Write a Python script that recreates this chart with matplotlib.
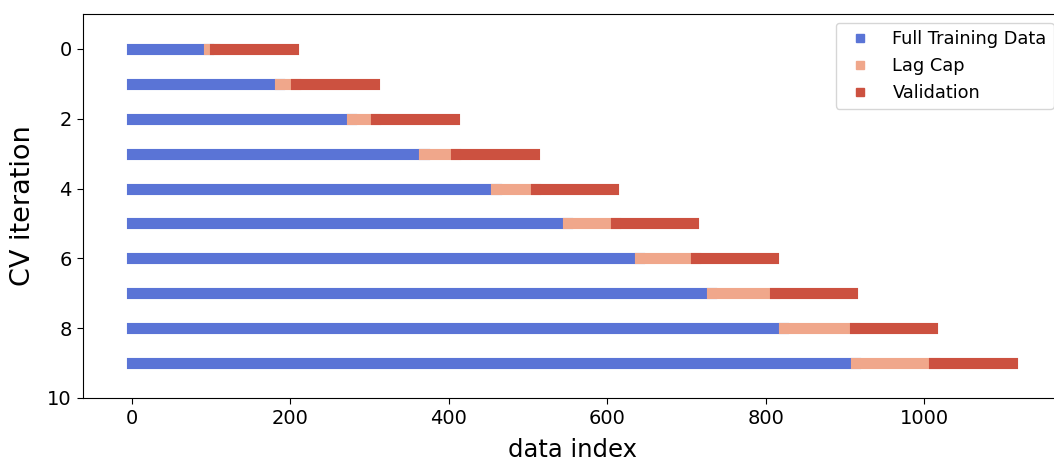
import matplotlib

matplotlib.use("Agg")

import matplotlib.pyplot as plt
from matplotlib.lines import Line2D

# CV splits: training [0, train_end), lag gap [train_end, gap_end), validation [gap_end, val_end)
iterations = [0, 1, 2, 3, 4, 5, 6, 7, 8, 9]
train_end = [97, 187, 278, 369, 460, 550, 641, 732, 823, 914]
gap_end = [105, 207, 308, 409, 510, 611, 712, 812, 913, 1013]
val_end = [204, 306, 407, 508, 608, 709, 810, 910, 1011, 1112]

labels = ["Full Training Data", "Lag Cap", "Validation"]
COLORS = ["#5a74d6", "#f0a78b", "#cc5140"]

fig = plt.figure(figsize=(10.54, 4.61), dpi=100)
ax = fig.add_axes([0.0787, 0.1367, 0.9295, 0.833])

starts = [[0] * len(iterations), train_end, gap_end]
ends = [[t - 1 for t in train_end], [g - 1 for g in gap_end], [v - 1 for v in val_end]]
for lo, hi, color in zip(starts, ends, COLORS):
    ax.hlines(iterations, lo, hi, colors=color, lw=8, capstyle="projecting")

ax.set_xlim(-62, 1175)
ax.set_ylim(10, -1)
ax.set_yticks([0, 2, 4, 6, 8, 10])
ax.set_xticks([0, 200, 400, 600, 800, 1000])
ax.tick_params(labelsize=14, length=4.5)
ax.set_xlabel("data index", fontsize=17.5, labelpad=7)
ax.set_ylabel("CV iteration", fontsize=19.5, labelpad=8)

handles = [Line2D([], [], marker="s", ls="", color=c, markersize=6) for c in COLORS]
ax.legend(handles, labels, loc="upper right", fontsize=12.8)

fig.savefig("out.png", dpi=100)
